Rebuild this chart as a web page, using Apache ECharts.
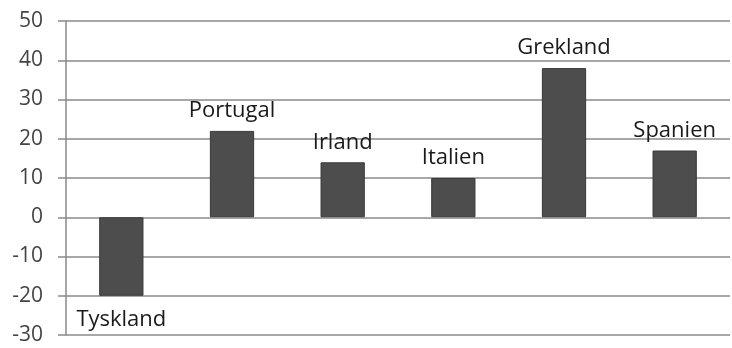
<!DOCTYPE html>
<html>
<head>
<meta charset="utf-8">
<script src="https://cdn.jsdelivr.net/npm/echarts@6/dist/echarts.min.js"></script>
<style>
  html, body { margin: 0; padding: 0; background: #fff; }
  #chart { width: 732px; height: 348px; }
</style>
</head>
<body>
<div id="chart"></div>
<script>
// Countries and their values
const countries = ['Tyskland', 'Portugal', 'Irland', 'Italien', 'Grekland', 'Spanien'];
const values = [-20, 22, 14, 10, 38, 17];
const yTicks = { min: -30, max: 50, interval: 10 };

const fontFamily = '"Open Sans", Lato, sans-serif';

const chart = echarts.init(document.getElementById('chart'));
chart.setOption({
  animation: false,
  backgroundColor: '#ffffff',
  grid: { left: 66, right: 2, top: 21, bottom: 13, containLabel: false },
  xAxis: {
    type: 'category',
    data: countries,
    axisLine: { show: false },
    axisTick: { show: false },
    axisLabel: { show: false },
    splitLine: { show: false }
  },
  yAxis: {
    type: 'value',
    min: yTicks.min,
    max: yTicks.max,
    interval: yTicks.interval,
    axisLine: { show: true, lineStyle: { color: '#8a8a8a', width: 1.5 } },
    axisTick: { show: true, inside: false, length: 8, lineStyle: { color: '#8a8a8a', width: 1.5 } },
    axisLabel: { margin: 23, color: '#444', fontSize: 21, fontFamily: fontFamily },
    splitLine: { show: true, lineStyle: { color: '#8a8a8a', width: 1.5 } }
  },
  series: [{
    type: 'bar',
    data: values.map((v) => ({
      value: v,
      label: v < 0 ? { position: 'bottom', distance: 13 } : { position: 'top', distance: 9 }
    })),
    barWidth: '40%',
    itemStyle: { color: '#4d4d4d', borderColor: '#383838', borderWidth: 1 },
    label: {
      show: true,
      formatter: (p) => countries[p.dataIndex],
      color: '#1a1a1a',
      fontSize: 22,
      fontFamily: fontFamily
    }
  }]
});
</script>
</body>
</html>
